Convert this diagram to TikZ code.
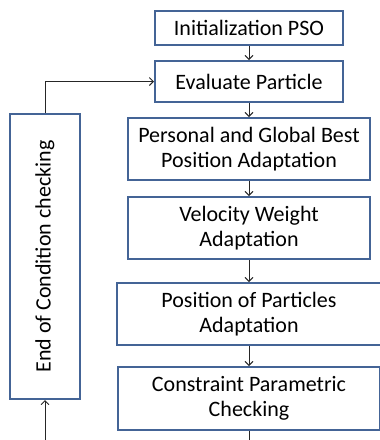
\documentclass[tikz,border=0pt]{standalone}
\usepackage{fontspec}
\setmainfont{Carlito}
\usepackage{xcolor}
\usepackage{tikz}
\usetikzlibrary{
  positioning,
  arrows.meta
}

\definecolor{boxblue}{RGB}{68,100,150}

\begin{document}
\begin{tikzpicture}[
  x=1pt, y=-1pt,
  font=\fontsize{22}{25.5}\selectfont,
  block/.style={
    rectangle,
    draw=boxblue,
    fill=white,
    line width=2pt,
    inner sep=2pt,
    align=center
  },
  arrow/.style={
    -{Straight Barb[length=4pt,width=8pt]},
    line width=0.9pt,
    draw=black!85
  }
]

\useasboundingbox (0,0) rectangle (380,440);
\clip (0,0) rectangle (380,440);

\node[block, minimum width=188pt, minimum height=34pt] (init) at (249,28) {Initialization PSO};
\node[block, minimum width=188pt, minimum height=41pt, below=14pt of init] (eval) {Evaluate Particle};
\node[block, minimum width=242pt, minimum height=62pt, below=14pt of eval] (best) {Personal and Global Best\\Position Adaptation};
\node[block, minimum width=242pt, minimum height=62pt, below=15pt of best] (vel) {Velocity Weight\\Adaptation};
\node[block, minimum width=264pt, minimum height=62pt, below=22pt of vel] (pos) {Position of Particles\\Adaptation};
\node[block, minimum width=262pt, minimum height=63pt, below=20pt of pos] (cons) {Constraint Parametric\\Checking};

\node[block, minimum width=285pt, minimum height=70pt, rotate=90] (cond) at (45,256.5) {End of Condition checking};

\draw[arrow] (init) -- (eval);
\draw[arrow] (eval) -- (best);
\draw[arrow] (best) -- (vel);
\draw[arrow] (vel) -- (pos);
\draw[arrow] (pos) -- (cons);
\draw[arrow] (cond.east) |- (eval.west);
\draw[arrow] (cons.south) -- ++(0,40) -| (cond.west);

\end{tikzpicture}
\end{document}
